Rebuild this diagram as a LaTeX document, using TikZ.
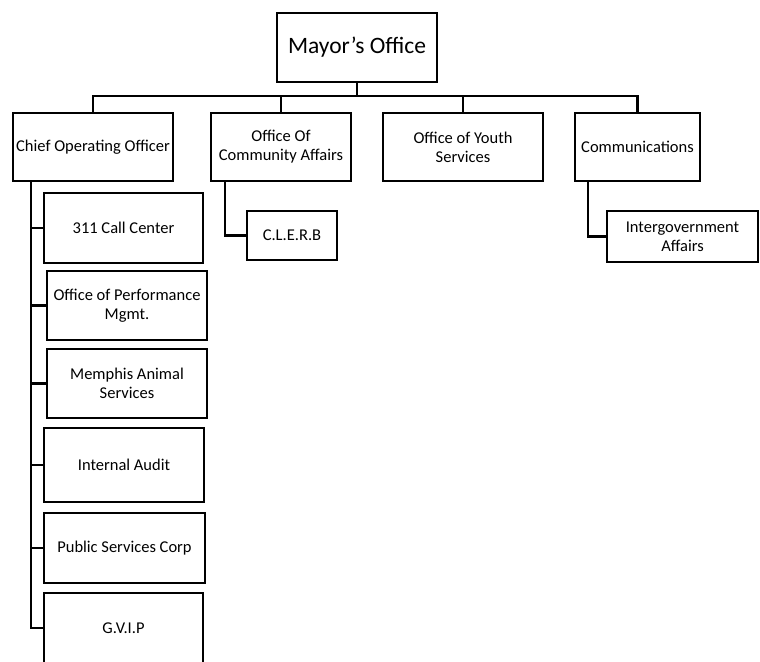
\documentclass[tikz,border=0pt]{standalone}
\usepackage{fontspec}
\setmainfont{Carlito}
\begin{document}
\begin{tikzpicture}[x=1pt,y=-1pt,line width=2.3pt]
    \tikzstyle{box}=[draw,rectangle,line width=2.3pt,inner sep=0pt,align=center,font=\fontsize{16.5}{19}\selectfont,minimum width=160pt,minimum height=69pt];
    \useasboundingbox (0,0) rectangle (760,661);
    \clip (0,0) rectangle (760,661);
    \node[box,font=\fontsize{23.5}{26}\selectfont] at (357,47.5) (mayor) {Mayor's Office};
    \node[box,minimum height=68pt] at (93,147) (coo) {Chief Operating Officer};
    \node[box,minimum width=140pt,minimum height=68pt] at (281,147) (oca) {Office Of\\Community Affairs};
    \node[box,minimum height=68pt] at (463,147) (oys) {Office of Youth\\Services};
    \node[box,minimum width=125pt,minimum height=68pt] at (637.5,147) (comm) {Communications};
    \node[box,minimum width=90pt,minimum height=49pt,line width=2.8pt] at (292,235.5) (clerb) {C.L.E.R.B};
    \node[box,minimum width=151pt,minimum height=51pt,line width=2.8pt] at (682.5,236.5) (igov) {Intergovernment\\Affairs};
    \node[box,minimum width=159pt,minimum height=70pt] at (123.5,228) (call) {311 Call Center};
    \node[box] at (127,305.5) (perf) {Office of Performance\\Mgmt.};
    \node[box] at (127,383.5) (mas) {Memphis Animal\\Services};
    \node[box,minimum height=74pt] at (124,465) (audit) {Internal Audit};
    \node[box,minimum width=161pt,minimum height=70pt,line width=2.8pt] at (124.5,548) (psc) {Public Services Corp};
    \node[box,minimum width=159pt,minimum height=70pt,line width=2.8pt] at (123.5,628) (gvip) {G.V.I.P};

    \foreach \n in {coo,oca,oys,comm}
        \draw (mayor.south) |- ([yshift=16pt]\n.north) -- (\n.north);
    \foreach \n in {call,perf,mas,audit,psc,gvip}
        \draw ([xshift=-62pt]coo.south) |- (\n.west);
    \draw ([xshift=-56pt]oca.south) |- (clerb.west);
    \draw ([xshift=-49.5pt]comm.south) |- (igov.west);
\end{tikzpicture}
\end{document}
